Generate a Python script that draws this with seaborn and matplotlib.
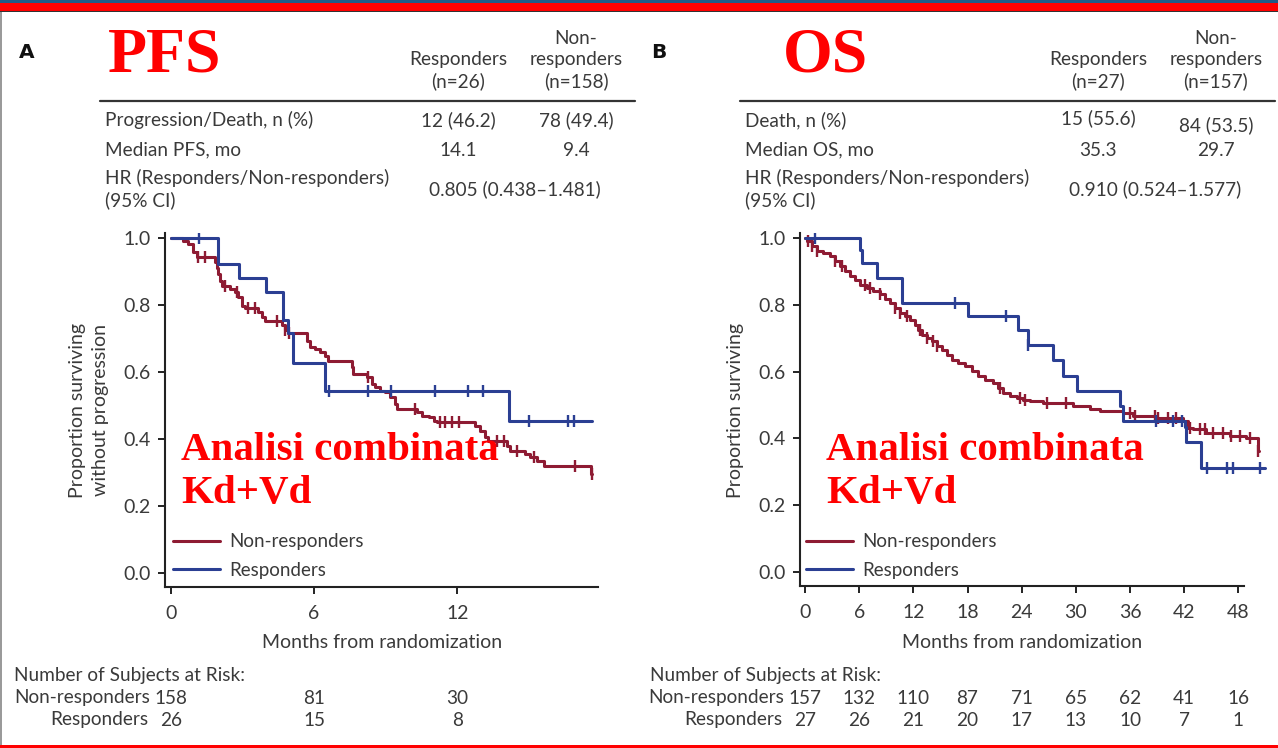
import numpy as np
import pandas as pd
import matplotlib
matplotlib.use("Agg")
import matplotlib.pyplot as plt
import matplotlib.transforms as mtransforms
from matplotlib.patches import Rectangle
import seaborn as sns

W, H = 1278, 748
sns.set_theme(style="ticks")
plt.rcParams["font.family"] = ["Lato", "DejaVu Sans"]

RED_LINE = "#8e1b33"
BLUE_LINE = "#2b3f93"
TXT = "#3a3a3a"
ACCENT = "#ff0000"
FS = 13.7

# ---- Panel A: progression-free survival (months, survival probability) ----
pfs_nr_t = [0, 0.52, 0.73, 0.94, 1.08, 1.85, 1.92, 1.99, 2.06, 2.13, 2.48, 2.69, 2.83,
            2.97, 3.10, 3.66, 3.80, 3.94, 4.64, 4.78, 4.92, 5.69, 5.83, 6.04, 6.25,
            6.46, 6.60, 7.58, 7.65, 8.21, 8.42, 8.56, 8.77, 8.98, 9.19, 9.40, 9.47,
            10.31, 10.52, 10.80, 11.01, 11.15, 12.76, 12.97, 13.17, 13.31, 14.08,
            14.22, 14.85, 15.06, 15.34, 15.62, 17.60]
pfs_nr_s = [1.0, 0.992, 0.982, 0.957, 0.942, 0.927, 0.912, 0.893, 0.873, 0.858, 0.848,
            0.838, 0.823, 0.798, 0.791, 0.778, 0.763, 0.753, 0.740, 0.725, 0.717, 0.694,
            0.674, 0.669, 0.659, 0.649, 0.634, 0.614, 0.594, 0.584, 0.564, 0.554, 0.544,
            0.539, 0.524, 0.504, 0.490, 0.480, 0.470, 0.465, 0.455, 0.450, 0.440, 0.425,
            0.405, 0.395, 0.380, 0.365, 0.355, 0.345, 0.335, 0.320, 0.297]
pfs_nr_censor = [1.15, 1.43, 2.27, 2.76, 3.24, 3.52, 4.43, 4.80, 4.95, 8.25, 10.24,
                 11.29, 11.50, 11.78, 12.06, 13.66, 13.94, 14.50, 15.20, 16.95, 17.65]
pfs_nr_end = 17.65

pfs_r_t = [0, 1.99, 2.87, 3.99, 4.71, 4.92, 5.10, 6.46, 14.15]
pfs_r_s = [1.0, 0.923, 0.880, 0.840, 0.755, 0.715, 0.626, 0.544, 0.454]
pfs_r_censor = [1.19, 6.64, 8.28, 9.23, 11.08, 12.45, 13.06, 15.00, 16.64, 16.91]
pfs_r_end = 17.65

# ---- Panel B: overall survival ----
os_nr_t = [0, 0.18, 0.74, 1.29, 2.03, 2.77, 3.32, 3.87, 4.43, 4.98, 5.54, 6.09, 6.83,
           7.56, 8.30, 8.86, 9.41, 9.96, 10.52, 11.07, 11.62, 12.18, 12.55, 12.92,
           13.47, 14.02, 14.58, 15.13, 15.68, 16.24, 16.97, 17.71, 18.45, 19.19,
           19.93, 20.85, 21.40, 21.96, 22.69, 23.43, 24.17, 24.91, 26.38, 29.70,
           31.55, 32.66, 35.24, 36.35, 38.93, 41.88, 42.44, 42.99, 44.46, 47.05,
           48.89, 50.18]
os_nr_s = [1.0, 0.990, 0.975, 0.960, 0.955, 0.945, 0.930, 0.915, 0.900, 0.885, 0.875,
           0.860, 0.850, 0.840, 0.831, 0.816, 0.806, 0.791, 0.776, 0.766, 0.756, 0.741,
           0.726, 0.711, 0.701, 0.691, 0.676, 0.666, 0.651, 0.636, 0.626, 0.616, 0.601,
           0.586, 0.576, 0.566, 0.551, 0.536, 0.526, 0.521, 0.516, 0.511, 0.506, 0.497,
           0.487, 0.482, 0.477, 0.467, 0.462, 0.452, 0.432, 0.427, 0.417, 0.406, 0.402,
           0.362]
os_nr_censor = [0.30, 0.74, 1.29, 3.32, 4.06, 6.64, 7.20, 8.30, 9.96, 10.52, 11.25,
                12.73, 13.47, 14.21, 14.58, 21.59, 23.80, 24.35, 26.75, 28.90, 35.98,
                36.53, 38.75, 39.11, 40.22, 41.14, 42.62, 43.73, 44.28, 45.20, 46.31,
                47.23, 48.15, 49.26, 50.18]
os_nr_end = 50.25

os_r_t = [0, 6.09, 6.30, 7.93, 10.70, 10.80, 18.08, 23.60, 24.70, 27.50, 28.60, 30.10,
          34.90, 35.20, 42.10, 42.25, 43.90]
os_r_s = [1.0, 0.963, 0.926, 0.880, 0.843, 0.806, 0.766, 0.726, 0.681, 0.636, 0.586,
          0.541, 0.497, 0.452, 0.435, 0.388, 0.310]
os_r_censor = [1.10, 16.60, 22.25, 24.75, 38.90, 40.80, 41.70, 44.50, 46.70, 47.40, 50.40]
os_r_end = 51.0

# ---- numbers at risk ----
pfs_risk_times = [0, 6, 12]
pfs_risk_nr = [158, 81, 30]
pfs_risk_r = [26, 15, 8]
os_risk_times = [0, 6, 12, 18, 24, 30, 36, 42, 48]
os_risk_nr = [157, 132, 110, 87, 71, 65, 62, 41, 16]
os_risk_r = [27, 26, 21, 20, 17, 13, 10, 7, 1]

# ---- summary tables ----
pfs_cols = [("Responders", "(n=26)"), ("Non-", "responders", "(n=158)")]
pfs_rows = ["Progression/Death, n (%)", "Median PFS, mo"]
pfs_vals = [("12 (46.2)", "78 (49.4)"), ("14.1", "9.4")]
pfs_hr = "0.805 (0.438\u20131.481)"
os_cols = [("Responders", "(n=27)"), ("Non-", "responders", "(n=157)")]
os_rows = ["Death, n (%)", "Median OS, mo"]
os_vals = [("15 (55.6)", "84 (53.5)"), ("35.3", "29.7")]
os_hr = "0.910 (0.524\u20131.577)"

group_labels = ["Non-responders", "Responders"]


def km_frame(times, surv, end):
    t = list(times) + [end]
    s = list(surv) + [surv[-1]]
    return pd.DataFrame({"t": t, "s": s})


def surv_at(times, surv, c):
    idx = np.searchsorted(np.asarray(times), c, side="right") - 1
    return np.asarray(surv)[idx]


fig = plt.figure(figsize=(W / 100, H / 100), dpi=100)
fig.patch.set_facecolor("white")


def px_text(x, y, s, **kw):
    kw.setdefault("color", TXT)
    kw.setdefault("fontsize", FS)
    kw.setdefault("va", "center")
    return fig.text(x / W, 1 - y / H, s, **kw)


def make_axes(left, right, top, bottom):
    return fig.add_axes([left / W, 1 - bottom / H, (right - left) / W, (bottom - top) / H])


def draw_km(ax, curves):
    for times, surv, end, cens, color in curves:
        df = km_frame(times, surv, end)
        sns.lineplot(data=df, x="t", y="s", drawstyle="steps-post", estimator=None,
                     sort=False, color=color, lw=2.2, ax=ax, legend=False)
        cy = surv_at(times, surv, cens)
        ax.plot(cens, cy, linestyle="none", marker="|", ms=9, mew=1.7, color=color)


def style_axes(ax, xticks, xlim, xspine_end):
    ax.set_xlim(*xlim)
    ax.set_ylim(-0.0418, 1.015)
    ax.set_xticks(xticks)
    ax.set_yticks([0.0, 0.2, 0.4, 0.6, 0.8, 1.0])
    ax.set_yticklabels(["0.0", "0.2", "0.4", "0.6", "0.8", "1.0"])
    sns.despine(ax=ax)
    for side in ("left", "bottom"):
        ax.spines[side].set_linewidth(1.5)
        ax.spines[side].set_color("#222222")
    ax.spines["bottom"].set_bounds(xlim[0], xspine_end)
    ax.tick_params(axis="both", length=5, width=1.4, color="#222222",
                   labelsize=14, labelcolor=TXT)
    ax.tick_params(axis="x", pad=8)
    ax.tick_params(axis="y", pad=5)
    ax.set_xlabel("")
    ax.set_ylabel("")
    ax.set_facecolor("none")


# Panel A axes
axA = make_axes(165, 598, 233, 587)
draw_km(axA, [(pfs_nr_t, pfs_nr_s, pfs_nr_end, pfs_nr_censor, RED_LINE),
              (pfs_r_t, pfs_r_s, pfs_r_end, pfs_r_censor, BLUE_LINE)])
style_axes(axA, [0, 6, 12], (-0.25, 17.9), 17.9)

# Panel B axes
axB = make_axes(800, 1270, 233, 586)
draw_km(axB, [(os_nr_t, os_nr_s, os_nr_end, os_nr_censor, RED_LINE),
              (os_r_t, os_r_s, os_r_end, os_r_censor, BLUE_LINE)])
style_axes(axB, os_risk_times, (-0.55, 51.5), 48.6)

# axis titles
px_text(382, 643, "Months from randomization", ha="center", fontsize=14)
px_text(1022, 643, "Months from randomization", ha="center", fontsize=14)
px_text(89, 410, "Proportion surviving\nwithout progression", ha="center",
        rotation=90, fontsize=14, linespacing=1.45)
px_text(735, 410, "Proportion surviving", ha="center", rotation=90, fontsize=14)

# legends
for ax, lx in ((axA, 173), (axB, 806)):
    handles = [ax.lines[0], ax.lines[2]]
    ax.legend(handles, group_labels, loc="center left", frameon=False,
              bbox_to_anchor=(lx / W, 1 - 556 / H), bbox_transform=fig.transFigure,
              borderpad=0, borderaxespad=0, handlelength=2.5, handletextpad=0.5,
              labelspacing=0.6, fontsize=13.5, labelcolor=TXT)

# summary tables
for (px0, letter, title, cols, rows, vals, hr, c1, c2, line_end) in (
        (0, "A", "PFS", pfs_cols, pfs_rows, pfs_vals, pfs_hr, 458, 576, 635),
        (640, "B", "OS", os_cols, os_rows, os_vals, os_hr, 1098, 1216, 1275)):
    px_text(27 if px0 == 0 else 659, 52, letter, ha="center", fontsize=14.5,
            fontweight="bold", color="#111111", family=["DejaVu Sans"])
    px_text(108 if px0 == 0 else 783, 56, title, ha="left", fontsize=46,
            fontweight="bold", color=ACCENT, family=["Liberation Serif"])
    px_text(c1, 60, cols[0][0], ha="center")
    px_text(c1, 81, cols[0][1], ha="center")
    px_text(c2, 39, cols[1][0], ha="center")
    px_text(c2, 60, cols[1][1], ha="center")
    px_text(c2, 81, cols[1][2], ha="center")
    x0 = 100 if px0 == 0 else 740
    fig.add_artist(plt.Line2D([x0 / W, line_end / W], [1 - 101 / H, 1 - 101 / H],
                              color="#333333", lw=1.6))
    lx = x0 + 5
    for i, (lab, (v1, v2)) in enumerate(zip(rows, vals)):
        y = 120 + 30 * i
        px_text(lx, y, lab, ha="left")
        px_text(c1, y - (2 if (px0 and i == 0) else 0), v1, ha="center")
        px_text(c2, y + (5 if (px0 and i == 0) else 0), v2, ha="center")
    px_text(lx, 178, "HR (Responders/Non-responders)", ha="left")
    px_text(lx, 200, "(95% CI)", ha="left")
    px_text((c1 + c2) / 2 - 2, 189, hr, ha="center")

# combined-analysis note
for x in (181, 826):
    px_text(x, 472, "Analisi combinata\nKd+Vd", ha="left", fontsize=29.5,
            fontweight="bold", color=ACCENT, family=["Liberation Serif"], linespacing=1.18)

# numbers at risk
for ax, x_head, x_lab, times, nr, r in (
        (axA, 14, 150, pfs_risk_times, pfs_risk_nr, pfs_risk_r),
        (axB, 650, 784, os_risk_times, os_risk_nr, os_risk_r)):
    px_text(x_head, 676, "Number of Subjects at Risk:", ha="left")
    px_text(x_lab, 698, "Non-responders", ha="right")
    px_text(x_lab - 2, 720, "Responders", ha="right")
    trans = mtransforms.blended_transform_factory(ax.transData, fig.transFigure)
    for t, a, b in zip(times, nr, r):
        fig.text(t, 1 - 698 / H, str(a), transform=trans, ha="center", va="center",
                 fontsize=FS, color=TXT)
        fig.text(t, 1 - 720 / H, str(b), transform=trans, ha="center", va="center",
                 fontsize=FS, color=TXT)

# slide frame: top stripes, bottom stripe and left rule
fig.add_artist(Rectangle((0, 1 - 3 / H), 1, 3 / H, transform=fig.transFigure,
                         color="#1f5b86", lw=0))
fig.add_artist(Rectangle((0, 1 - 10.5 / H), 1, 7.5 / H, transform=fig.transFigure,
                         color="#ff0000", lw=0))
fig.add_artist(Rectangle((0, 1 - 12 / H), 1, 1.5 / H, transform=fig.transFigure,
                         color="#333333", lw=0))
fig.add_artist(Rectangle((0, 0), 1, 3.5 / H, transform=fig.transFigure,
                         color="#ff0000", lw=0))
fig.add_artist(Rectangle((0, 3.5 / H), 2 / W, 1 - 15.5 / H, transform=fig.transFigure,
                         color="#9a9a9a", lw=0))

fig.savefig("out.png", dpi=100, facecolor="white")
